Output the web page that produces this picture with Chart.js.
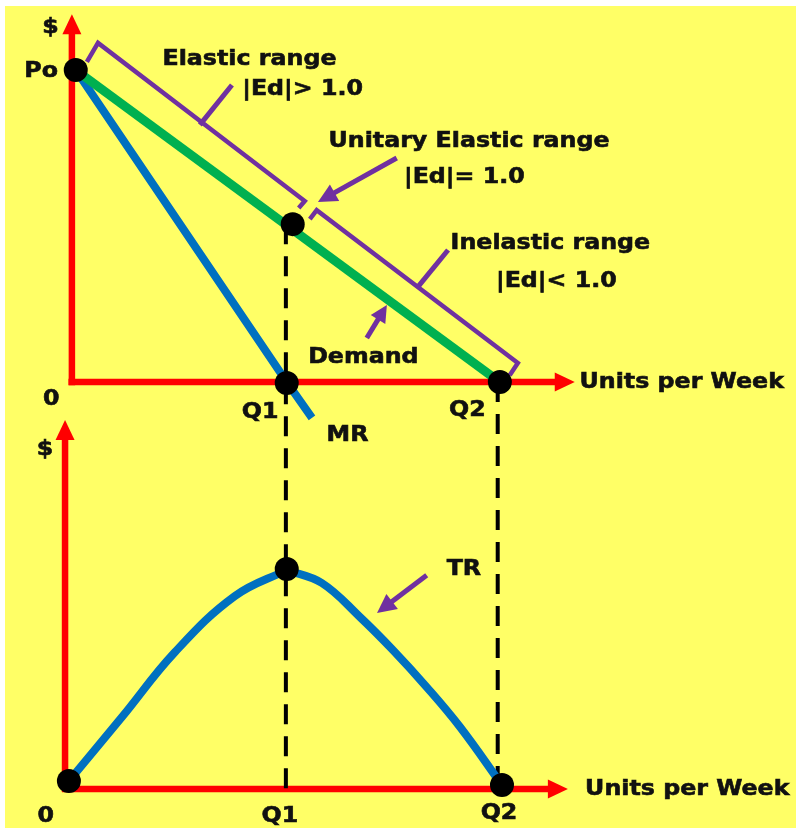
<!DOCTYPE html>
<html>
<head>
<meta charset="utf-8">
<title>Elasticity, MR and TR</title>
<script src="https://cdn.jsdelivr.net/npm/chart.js@4.4.1/dist/chart.umd.min.js"></script>
<style>
    body { margin: 0; background: #ffffff; }
    #wrap { position: relative; width: 796px; height: 828px; }
    #bg { position: absolute; left: 5px; top: 6px; width: 791px; height: 822px; background: #ffff66; }
    #chart { position: absolute; left: 0; top: 0; }
</style>
</head>
<body>
<div id="wrap">
    <div id="bg"></div>
    <canvas id="chart" width="796" height="828"></canvas>
</div>
<script>
// Données du graphique (quantité en unités, prix en $, TR en $)

// Courbe de demande (verte)
const demandQ = [0.09, 10];
const demandP = [10, 0];

// Recette marginale (bleue), prolongée sous l'axe
const mrQ = [0.09, 5.02, 5.61];
const mrP = [10, 0, -1.15];

// Recette totale (panneau du bas) : partie croissante puis décroissante
const trRisingQ = [-0.07, 1.17, 2.41, 3.81, 5.02];
const trRisingValue = [0.91, 8.18, 15.57, 21.93, 24.89];
const trFallingQ = [5.02, 5.84, 6.73, 7.50, 8.29, 9.07, 10.05];
const trFallingValue = [24.89, 23.41, 19.55, 15.8, 11.59, 7.05, 0.45];

// Points noirs
const topDotsQ = [0.09, 5.16, 5.02, 10.0];
const topDotsP = [10.0, 5.06, -0.03, 0];
const bottomDotsQ = [-0.07, 5.02, 10.05];
const bottomDotsTR = [0.91, 25.0, 0.45];

// Pointillés verticaux (Q1 et Q2 jusqu'à l'axe du bas)
const q1GuideQ = [5.0, 5.0];
const q1GuideP = [5.06, -13.04];
const q2GuideQ = [9.95, 9.95];
const q2GuideP = [0, -12.9];

// Accolades violettes (plages d'élasticité)
const elasticBracketQ = [0.35, 0.61, 5.44, 5.30];
const elasticBracketP = [10.26, 10.87, 5.80, 5.58];
const inelasticBracketQ = [5.56, 5.72, 10.42, 10.23];
const inelasticBracketP = [5.22, 5.51, 0.61, 0.22];

// Traits et flèches d'annotation
const elasticCalloutQ = [2.99, 3.74];
const elasticCalloutP = [8.24, 9.52];
const inelasticCalloutQ = [8.08, 8.79];
const inelasticCalloutP = [3.04, 4.23];
const unitaryArrowQ = [7.59, 5.75];
const unitaryArrowP = [7.18, 5.77];
const demandArrowQ = [6.89, 7.36];
const demandArrowP = [1.41, 2.47];
const trArrowQ = [8.29, 7.13];
const trArrowTR = [24.3, 20.0];

// Axes (rouges)
const topYAxisQ = [0, 0];
const topYAxisP = [-0.1, 11.79];
const topXAxisQ = [-0.08, 11.75];
const topXAxisP = [0, 0];
const bottomYAxisQ = [-0.16, -0.16];
const bottomYAxisTR = [-0.35, 41.93];
const bottomXAxisQ = [-0.23, 11.59];
const bottomXAxisTR = [0, 0];

// Textes
const topLabels = [
    { text: '$', x: -0.50, y: 11.19 },
    { text: 'Po', x: -0.72, y: 9.78 },
    { text: '0', x: -0.48, y: -0.74 },
    { text: 'Q1', x: 4.40, y: -1.15 },
    { text: 'Q2', x: 9.24, y: -1.09 },
    { text: 'MR', x: 6.44, y: -1.89 },
    { text: 'Demand', x: 6.81, y: 0.61 },
    { text: 'Units per Week', x: 14.25, y: -0.19 },
    { text: 'Elastic range', x: 4.15, y: 10.16 },
    { text: '|Ed|> 1.0', x: 5.39, y: 9.20 },
    { text: 'Unitary Elastic range', x: 9.28, y: 7.53 },
    { text: '|Ed|= 1.0', x: 9.17, y: 6.38 },
    { text: 'Inelastic range', x: 11.18, y: 4.26 },
    { text: '|Ed|< 1.0', x: 11.32, y: 3.04 }
];
const bottomLabels = [
    { text: '$', x: -0.63, y: 37.95 },
    { text: '0', x: -0.61, y: -3.75 },
    { text: 'Q1', x: 4.86, y: -3.75 },
    { text: 'Q2', x: 9.98, y: -3.41 },
    { text: 'Units per Week', x: 14.38, y: -0.68 },
    { text: 'TR', x: 9.16, y: 24.3 }
];

const COLORS = {
    red: '#ff0000',
    green: '#00b050',
    blue: '#0070c0',
    purple: '#7030a0',
    black: '#000000'
};

/**
 * Associe deux listes en points {x, y}
 */
function toPoints(xs, ys) {
    return xs.map((x, i) => ({ x: x, y: ys[i] }));
}

/**
 * Crée un dataset de type ligne
 */
function lineSet(xs, ys, color, width, order, extra) {
    return Object.assign({
        data: toPoints(xs, ys),
        showLine: true,
        borderColor: color,
        backgroundColor: color,
        borderWidth: width,
        pointRadius: 0,
        fill: false,
        order: order,
        yAxisID: 'y'
    }, extra || {});
}

// Plugin : pointes de flèche au bout des lignes
const arrowHeads = {
    id: 'arrowHeads',
    afterDatasetsUpdate(chart) {
        chart.data.datasets.forEach((ds, i) => {
            if (!ds.arrow) return;
            const pts = chart.getDatasetMeta(i).data;
            const tip = pts[pts.length - 1];
            const prev = pts[pts.length - 2];
            const dx = tip.x - prev.x;
            const dy = tip.y - prev.y;
            const d = Math.hypot(dx, dy);
            const ux = dx / d, uy = dy / d;
            ds.arrow.tip = { x: tip.x, y: tip.y, ux: ux, uy: uy };
            // raccourcir la ligne pour que la pointe reste fine
            tip.x -= ux * ds.arrow.length * 0.6;
            tip.y -= uy * ds.arrow.length * 0.6;
        });
    },
    afterDatasetsDraw(chart) {
        const ctx = chart.ctx;
        chart.data.datasets.forEach(ds => {
            if (!ds.arrow || !ds.arrow.tip) return;
            const t = ds.arrow.tip;
            const len = ds.arrow.length, half = ds.arrow.width / 2;
            const bx = t.x - t.ux * len, by = t.y - t.uy * len;
            ctx.save();
            ctx.fillStyle = ds.borderColor;
            ctx.beginPath();
            ctx.moveTo(t.x, t.y);
            ctx.lineTo(bx - t.uy * half, by + t.ux * half);
            ctx.lineTo(bx + t.uy * half, by - t.ux * half);
            ctx.closePath();
            ctx.fill();
            ctx.restore();
        });
    }
};

// Plugin : textes placés en coordonnées de données
const diagramLabels = {
    id: 'diagramLabels',
    afterDatasetsDraw(chart) {
        const ctx = chart.ctx;
        const xScale = chart.scales.x;
        const draw = (list, yScale) => {
            list.forEach(l => {
                ctx.save();
                ctx.translate(xScale.getPixelForValue(l.x), yScale.getPixelForValue(l.y));
                ctx.scale(1.13, 1);
                ctx.font = 'bold 21px "DejaVu Sans"';
                ctx.fillStyle = '#111111';
                ctx.strokeStyle = '#111111';
                ctx.lineWidth = 0.6;
                ctx.textAlign = 'center';
                ctx.textBaseline = 'alphabetic';
                ctx.fillText(l.text, 0, 0);
                ctx.strokeText(l.text, 0, 0);
                ctx.restore();
            });
        };
        draw(topLabels, chart.scales.y);
        draw(bottomLabels, chart.scales.y2);
    }
};

const ctx = document.getElementById('chart').getContext('2d');
const chart = new Chart(ctx, {
    type: 'scatter',
    data: {
        datasets: [
            // Axes
            lineSet(topYAxisQ, topYAxisP, COLORS.red, 6.5, 6, { arrow: { length: 20, width: 19 } }),
            lineSet(topXAxisQ, topXAxisP, COLORS.red, 6.5, 6, { arrow: { length: 20, width: 19 } }),
            lineSet(bottomYAxisQ, bottomYAxisTR, COLORS.red, 6.5, 6, { yAxisID: 'y2', arrow: { length: 20, width: 19 } }),
            lineSet(bottomXAxisQ, bottomXAxisTR, COLORS.red, 6.5, 6, { yAxisID: 'y2', arrow: { length: 20, width: 19 } }),
            // Pointillés
            lineSet(q1GuideQ, q1GuideP, COLORS.black, 4, 5, { borderDash: [20, 12] }),
            lineSet(q2GuideQ, q2GuideP, COLORS.black, 4, 5, { borderDash: [20, 12] }),
            // Courbes
            lineSet(mrQ, mrP, COLORS.blue, 8, 4),
            lineSet(demandQ, demandP, COLORS.green, 9, 3),
            lineSet(trRisingQ, trRisingValue, COLORS.blue, 8, 3, { yAxisID: 'y2', tension: 0.4 }),
            lineSet(trFallingQ, trFallingValue, COLORS.blue, 8, 3, { yAxisID: 'y2', tension: 0.4 }),
            // Annotations violettes
            lineSet(elasticBracketQ, elasticBracketP, COLORS.purple, 4.5, 2, { borderJoinStyle: 'miter' }),
            lineSet(inelasticBracketQ, inelasticBracketP, COLORS.purple, 4.5, 2, { borderJoinStyle: 'miter' }),
            lineSet(elasticCalloutQ, elasticCalloutP, COLORS.purple, 5, 2),
            lineSet(inelasticCalloutQ, inelasticCalloutP, COLORS.purple, 5, 2),
            lineSet(unitaryArrowQ, unitaryArrowP, COLORS.purple, 5, 2, { arrow: { length: 19, width: 19 } }),
            lineSet(demandArrowQ, demandArrowP, COLORS.purple, 5, 2, { arrow: { length: 17, width: 17 } }),
            lineSet(trArrowQ, trArrowTR, COLORS.purple, 5, 2, { yAxisID: 'y2', arrow: { length: 19, width: 19 } }),
            // Points
            {
                data: toPoints(topDotsQ, topDotsP),
                showLine: false,
                pointRadius: 12,
                pointBorderWidth: 0,
                backgroundColor: COLORS.black,
                borderColor: COLORS.black,
                order: 0,
                yAxisID: 'y'
            },
            {
                data: toPoints(bottomDotsQ, bottomDotsTR),
                showLine: false,
                pointRadius: 12,
                pointBorderWidth: 0,
                backgroundColor: COLORS.black,
                borderColor: COLORS.black,
                order: 0,
                yAxisID: 'y2'
            }
        ]
    },
    options: {
        responsive: false,
        animation: false,
        events: [],
        layout: { padding: 0, autoPadding: false },
        plugins: {
            legend: { display: false },
            tooltip: { enabled: false }
        },
        scales: {
            x: { type: 'linear', min: -1.68, max: 16.92, display: false },
            y: { type: 'linear', min: -14.295, max: 12.244, display: false },
            y2: { type: 'linear', position: 'left', min: -4.43, max: 89.66, display: false }
        }
    },
    plugins: [arrowHeads, diagramLabels]
});
</script>
</body>
</html>
